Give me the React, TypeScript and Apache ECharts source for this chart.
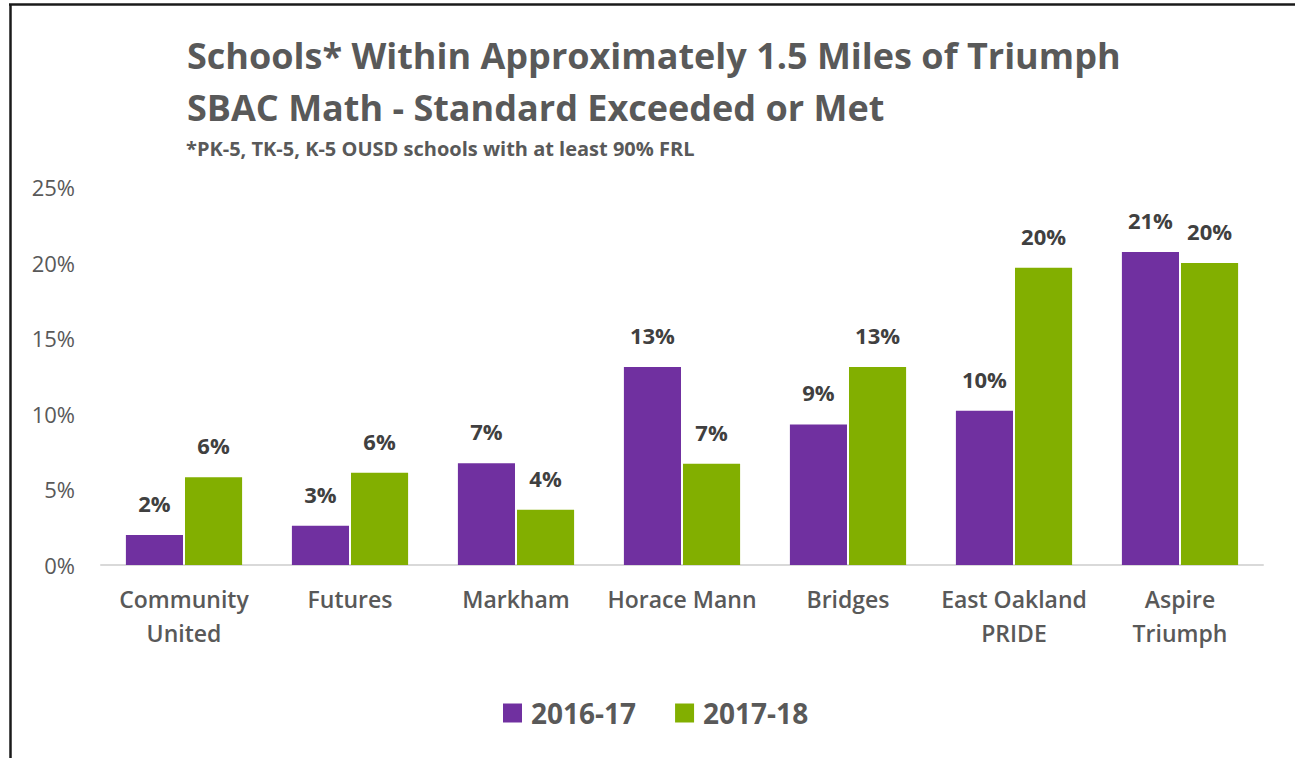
import React, { useEffect, useRef } from "react";
import * as echarts from "echarts";

const categories = [
  "Community\nUnited",
  "Futures",
  "Markham",
  "Horace Mann",
  "Bridges",
  "East Oakland\nPRIDE",
  "Aspire\nTriumph",
];
const series2016 = [1.98, 2.6, 6.73, 13.1, 9.3, 10.2, 20.7];
const series2017 = [5.8, 6.1, 3.66, 6.7, 13.1, 19.66, 19.97];
const seriesNames = ["2016-17", "2017-18"];
const titleLines = [
  "Schools* Within Approximately 1.5 Miles of Triumph",
  "SBAC Math - Standard Exceeded or Met",
];
const subtitle = "*PK-5, TK-5, K-5 OUSD schools with at least 90% FRL";

const FONT = "'Open Sans', 'Noto Sans', sans-serif";
const GRAY = "#595959";

export default function App() {
  const ref = useRef<HTMLDivElement>(null);
  useEffect(() => {
    if (!ref.current) return;
    const chart = echarts.init(ref.current, undefined, { renderer: "svg" });
    const label = {
      show: true,
      position: "top" as const,
      distance: 21,
      color: "#404040",
      fontFamily: FONT,
      fontWeight: "bold" as const,
      fontSize: 22,
      formatter: (p: any) => Math.round(p.value) + "%",
    };
    chart.setOption({
      animation: false,
      backgroundColor: "#ffffff",
      textStyle: { fontFamily: FONT },
      title: [
        {
          text: titleLines.join("\n"),
          left: 182,
          top: 24,
          textStyle: {
            fontFamily: FONT,
            fontWeight: "bold",
            fontSize: 36,
            lineHeight: 52,
            color: GRAY,
          },
        },
        {
          text: subtitle,
          left: 181,
          top: 133,
          textStyle: {
            fontFamily: FONT,
            fontWeight: "bold",
            fontSize: 20,
            color: GRAY,
          },
        },
      ],
      legend: {
        data: seriesNames,
        left: 503,
        top: 699,
        padding: 0,
        itemWidth: 19,
        itemHeight: 19,
        itemGap: 39,
        icon: "rect",
        textStyle: {
          fontFamily: FONT,
          fontWeight: "bold",
          fontSize: 28,
          color: GRAY,
          padding: [0, 0, 0, 4],
        },
      },
      grid: { left: 101, right: 32, top: 187, bottom: 193 },
      xAxis: {
        type: "category",
        data: categories,
        axisLine: { show: true, lineStyle: { color: "#d9d9d9", width: 2 } },
        axisTick: { show: false },
        axisLabel: {
          color: GRAY,
          fontFamily: FONT,
          fontWeight: 600,
          fontSize: 23,
          lineHeight: 34,
          margin: 17,
          interval: 0,
        },
      },
      yAxis: {
        type: "value",
        min: 0,
        max: 25,
        interval: 5,
        splitLine: { show: false },
        axisLine: { show: false },
        axisTick: { show: false },
        axisLabel: {
          formatter: "{value}%",
          color: GRAY,
          fontFamily: FONT,
          fontSize: 22,
          margin: 26,
        },
      },
      series: [
        {
          name: seriesNames[0],
          type: "bar",
          data: series2016,
          itemStyle: { color: "#7030A0" },
          barGap: "3.5%",
          barCategoryGap: "30%",
          label,
        },
        {
          name: seriesNames[1],
          type: "bar",
          data: series2017,
          itemStyle: { color: "#82AF00" },
          label,
        },
      ],
      graphic: [
        {
          type: "line",
          shape: { x1: 10.5, y1: 4, x2: 10.5, y2: 758 },
          style: { stroke: "#1a1a1a", lineWidth: 2.5 },
        },
        {
          type: "line",
          shape: { x1: 9, y1: 4.5, x2: 1295, y2: 4.5 },
          style: { stroke: "#1a1a1a", lineWidth: 2.5 },
        },
      ],
    });
    return () => chart.dispose();
  }, []);
  return (
    <div
      ref={ref}
      style={{ position: "absolute", left: 0, top: 0, width: 1295, height: 758 }}
    />
  );
}
